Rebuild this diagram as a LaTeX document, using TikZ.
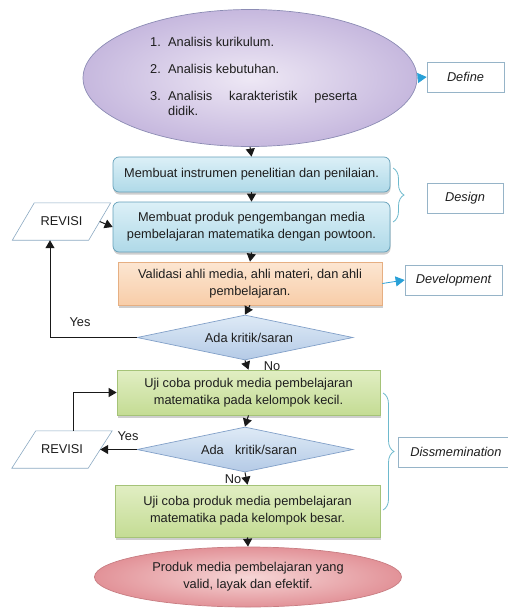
\documentclass[tikz,border=0pt]{standalone}
\usepackage{fontspec}
\setmainfont{Liberation Sans}
\usetikzlibrary{shapes.geometric,arrows.meta,decorations.pathreplacing,shadows,calc}
\definecolor{txt}{RGB}{30,30,30}
\definecolor{lavE}{RGB}{198,184,222}
\definecolor{lavC}{RGB}{238,232,245}
\definecolor{lavB}{RGB}{140,140,180}
\definecolor{bluT}{RGB}{220,240,247}
\definecolor{bluM}{RGB}{175,217,232}
\definecolor{bluB}{RGB}{100,160,185}
\definecolor{orT}{RGB}{252,230,210}
\definecolor{orM}{RGB}{248,205,168}
\definecolor{orB}{RGB}{230,175,130}
\definecolor{grT}{RGB}{225,238,195}
\definecolor{grM}{RGB}{196,220,148}
\definecolor{grB}{RGB}{165,195,120}
\definecolor{dmT}{RGB}{222,234,246}
\definecolor{dmM}{RGB}{180,202,230}
\definecolor{dmB}{RGB}{130,160,200}
\definecolor{pkC}{RGB}{246,214,214}
\definecolor{pkE}{RGB}{226,146,152}
\definecolor{pkB}{RGB}{200,125,130}
\definecolor{lblB}{RGB}{150,180,200}
\definecolor{brc}{RGB}{110,185,205}
\definecolor{barrc}{RGB}{40,160,215}
\definecolor{revB}{RGB}{140,170,195}
\begin{document}
\begin{tikzpicture}[x=1pt,y=-1pt,font=\fontsize{12.8}{17}\selectfont,text=txt,
  arr/.style={-{Triangle[width=9pt,length=8pt]},line width=1pt,draw=black!90},
  barr/.style={-{Triangle[width=10pt,length=9pt]},line width=0.8pt,draw=barrc!60,barrc},
  shd/.style={drop shadow={shadow xshift=0.5pt,shadow yshift=-2.5pt,opacity=.35,fill=black!55}},
  bluebox/.style={draw=bluB,line width=0.7pt,rounded corners=6pt,top color=bluT,bottom color=bluM,shd,align=center,inner sep=0pt},
  orbox/.style={draw=orB,line width=0.7pt,top color=orT,bottom color=orM,shd,align=center,inner sep=0pt},
  grbox/.style={draw=grB,line width=0.7pt,top color=grT,bottom color=grM,shd,align=center,inner sep=0pt},
  dmd/.style={diamond,aspect=4.8,inner sep=0pt,draw=dmB,line width=0.7pt,top color=dmT,bottom color=dmM,minimum width=216pt,minimum height=45pt},
  lbl/.style={draw=lblB,line width=0.7pt,fill=white,font=\fontsize{12.8}{15}\selectfont\itshape,inner sep=0pt},
  revtxt/.style={minimum width=76pt,minimum height=37pt,inner sep=0pt},
  revline/.style={draw=revB,line width=0.6pt,fill=white},
  brace/.style={draw=brc,line width=0.8pt,decorate,decoration={brace,amplitude=11pt}},
  itm/.style={anchor=base west,inner sep=0pt}]
\useasboundingbox (0,0) rectangle (508,608);
\clip (0,0) rectangle (508,608);

% Define
\node[ellipse,draw=lavB,line width=0.7pt,inner color=lavC,outer color=lavE,minimum width=334pt,minimum height=137pt,inner sep=0pt] (E1) at (250,78) {};
\node[itm] (n1) at (150,46) {1.};
\node[itm] (t1) at (168,46) {Analisis kurikulum.};
\node[itm] (n2) at (150,73) {2.};
\node[itm] (t2) at (168,73) {Analisis kebutuhan.};
\node[itm] (n3) at (150,100) {3.};
\node[itm] (t3) at (168,100) {\makebox[189pt][s]{Analisis karakteristik peserta}};
\node[itm] (t3b) at (168,115) {didik.};
\node[lbl,minimum width=77pt,minimum height=30pt] (def) at (465.5,77) {Define};
\draw[barr] (E1.east) -- (def.west);

% Design
\node[bluebox,minimum width=277pt,minimum height=35pt] (B1) at (251.5,174.5) {Membuat instrumen penelitian dan penilaian.};
\node[bluebox,minimum width=277pt,minimum height=50pt] (B2) at (251.5,227) {Membuat produk pengembangan media\\pembelajaran matematika dengan powtoon.};
\draw[arr] (E1.south) -- (B1.north);
\draw[arr] (B1.south) -- (B2.north);
\coordinate (bd1) at (393,168);
\coordinate (bd2) at (393,222);
\draw[brace] (bd1) -- (bd2);
\node[lbl,minimum width=76pt,minimum height=30pt] (des) at (465,198) {Design};
\node[revtxt] (rev1) at (61.5,221.5) {};
\draw[revline] ($(rev1.north west)+(11,0)$) -- ($(rev1.north east)+(11,0)$) -- ($(rev1.south east)+(-11,0)$) -- ($(rev1.south west)+(-11,0)$) -- cycle;
\node[revtxt] (rev1t) at (rev1) {REVISI};
\draw[arr] (rev1.east) -- (B2.west);

% Development
\node[orbox,minimum width=264pt,minimum height=43pt] (V) at (250,283.5) {Validasi ahli media, ahli materi, dan ahli\\pembelajaran.};
\draw[arr] (B2.south) -- (V.north);
\node[lbl,minimum width=97pt,minimum height=30pt] (dev) at (453.5,280) {Development};
\draw[barr] (V.east) -- (dev.west);

% Decision 1
\node[dmd] (D1) at (245,337.5) {\hspace{8pt}Ada kritik/saran};
\draw[arr] (V.south) -- (D1.north);
\draw[arr] (D1.west) -| ([xshift=-11.5pt]rev1.south);
\node (yes1) at (80,322) {Yes};

% Dissemination
\node[grbox,minimum width=263pt,minimum height=45pt] (G1) at (248.5,392.5) {Uji coba produk media pembelajaran\\matematika pada kelompok kecil.};
\draw[arr] (D1.south) -- (G1.north);
\node (no1) at (272,366) {No};
\node[dmd] (D2) at (245,449.5) {\hspace{8pt}Ada\hspace{0.6em} kritik/saran};
\draw[arr] (G1.south) -- (D2.north);
\node[revtxt] (rev2) at (62,449.5) {};
\draw[revline] ($(rev2.north west)+(12,0)$) -- ($(rev2.north east)+(12,0)$) -- ($(rev2.south east)+(-12,0)$) -- ($(rev2.south west)+(-12,0)$) -- cycle;
\node[revtxt] (rev2t) at (rev2) {REVISI};
\draw[arr] (D2.west) -- (rev2.east);
\node (yes2) at (128,436) {Yes};
\draw[arr] ([xshift=11pt]rev2.north) |- (G1.west);
\node[grbox,minimum width=265pt,minimum height=52pt] (G2) at (247.5,511) {Uji coba produk media pembelajaran\\matematika pada kelompok besar.};
\draw[arr] (D2.south) -- (G2.north);
\node (no2) at (233,479) {No};
\coordinate (bs1) at (383,393);
\coordinate (bs2) at (383,510);
\draw[brace] (bs1) -- (bs2);
\node[lbl,anchor=west,minimum width=140pt,minimum height=30pt,text width=128pt,inner xsep=12pt,align=left] (dis) at (398,452) {Dissmemination};

% Final
\node[ellipse,draw=pkB,line width=0.7pt,inner color=pkC,outer color=pkE,minimum width=307pt,minimum height=60pt,inner sep=0pt,align=center] (E2) at (248,577) {Produk media pembelajaran yang\\valid, layak dan efektif.};
\draw[arr] (G2.south) -- (E2.north);
\end{tikzpicture}
\end{document}
